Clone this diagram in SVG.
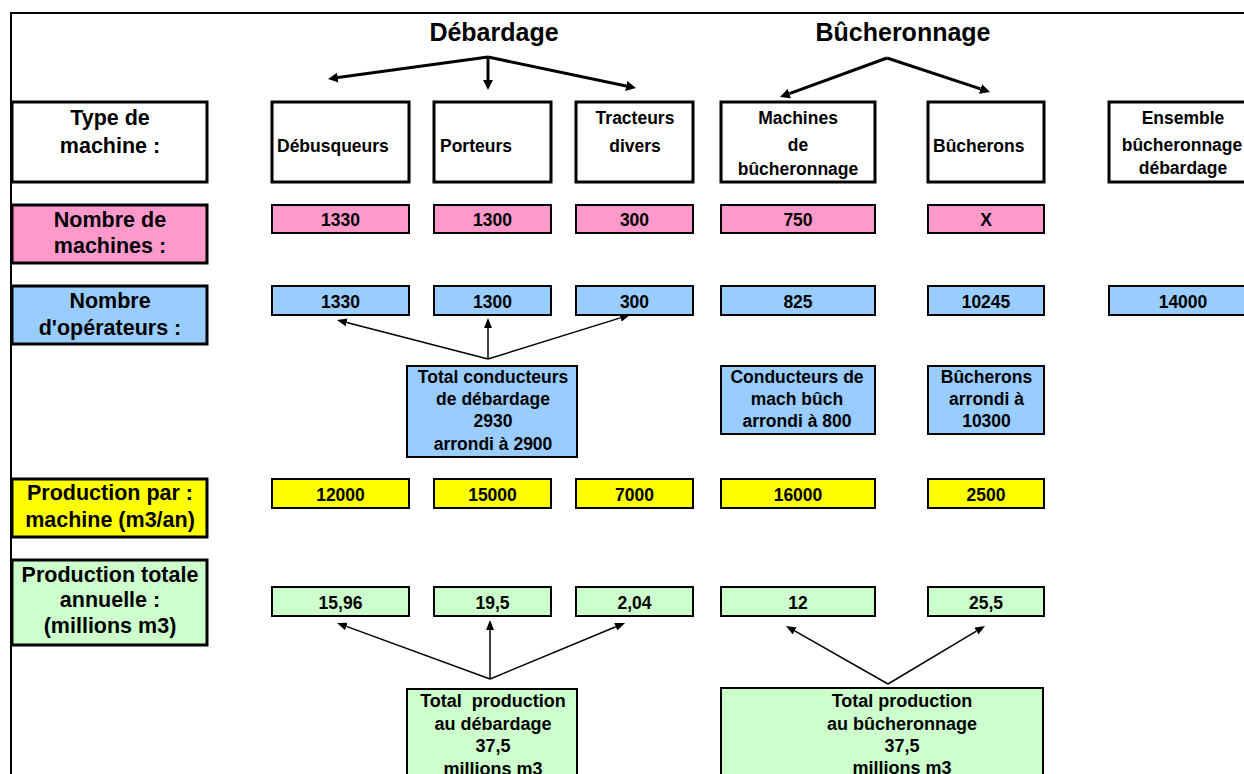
<svg xmlns="http://www.w3.org/2000/svg" width="1244" height="774" viewBox="0 0 1244 774">
<style>
text{font-family:"Liberation Sans",Arial,sans-serif;font-weight:bold;fill:#000}
.t{font-size:25px;text-anchor:middle}
.lab{font-size:21.5px;text-anchor:middle}
.m{font-size:17.5px;text-anchor:middle}
.ml{font-size:17.5px}
.b{font-size:18px;text-anchor:middle}
.big{stroke:#000;stroke-width:3}
.sm{stroke:#000;stroke-width:2}
.white{fill:#fff}.pink{fill:#FF99CC}.blue{fill:#99CCFF}.yel{fill:#FFFF00}.grn{fill:#CCFFCC}
.thick{stroke:#000;stroke-width:3;fill:none;marker-end:url(#ah)}
.thin{stroke:#000;stroke-width:1.5;fill:none;marker-end:url(#as)}
</style>
<defs>
<marker id="ah" markerUnits="userSpaceOnUse" markerWidth="10" markerHeight="10" refX="0" refY="5" orient="auto"><path d="M0,0 L10,5 L0,10 z" fill="#000"/></marker>
<marker id="as" markerUnits="userSpaceOnUse" markerWidth="10" markerHeight="8" refX="0" refY="4" orient="auto"><path d="M0,0 L10,4 L0,8 z" fill="#000"/></marker>
</defs>
<rect width="1244" height="774" fill="#fff"/>
<g id="frame"><path d="M11,774 V13 H1244" stroke="#000" stroke-width="2" fill="none"/></g>
<g id="titles">
<text class="t" x="494" y="41">Débardage</text>
<text class="t" x="903" y="41">Bûcheronnage</text>
</g>
<g id="connectors">
<line class="thick" x1="488" y1="57" x2="337.9" y2="77.6"/>
<line class="thick" x1="488" y1="57" x2="488" y2="80"/>
<line class="thick" x1="488" y1="57" x2="626.2" y2="86"/>
<line class="thick" x1="887" y1="58" x2="789.4" y2="93.6"/>
<line class="thick" x1="887" y1="58" x2="980.5" y2="88.9"/>
<line class="thin" x1="488" y1="359" x2="346.7" y2="322.4"/>
<line class="thin" x1="488" y1="359" x2="488" y2="328"/>
<line class="thin" x1="488" y1="359" x2="620.4" y2="317.9"/>
<line class="thin" x1="490" y1="679" x2="346.4" y2="626.4"/>
<line class="thin" x1="490" y1="679" x2="490" y2="630"/>
<line class="thin" x1="490" y1="679" x2="615.8" y2="626.8"/>
<line class="thin" x1="888" y1="684" x2="794.7" y2="630.9"/>
<line class="thin" x1="888" y1="684" x2="976.4" y2="631.1"/>
</g>
<g id="lab-type"><rect class="big white" x="12" y="102" width="195" height="80"/><text class="lab" x="110" y="125">Type de</text><text class="lab" x="110" y="153">machine :</text></g>
<g id="type-debusqueurs"><rect class="big white" x="272" y="102" width="137" height="80"/><text class="ml" x="277" y="152">Débusqueurs</text></g>
<g id="type-porteurs"><rect class="big white" x="434" y="102" width="117" height="80"/><text class="ml" x="440" y="152">Porteurs</text></g>
<g id="type-tracteurs"><rect class="big white" x="576" y="102" width="117" height="80"/><text class="m" x="635" y="124">Tracteurs</text><text class="m" x="635" y="152">divers</text></g>
<g id="type-machines"><rect class="big white" x="721" y="102" width="154" height="80"/><text class="m" x="798" y="124">Machines</text><text class="m" x="798" y="151">de</text><text class="m" x="798" y="175">bûcheronnage</text></g>
<g id="type-bucherons"><rect class="big white" x="928" y="102" width="116" height="80"/><text class="ml" x="933" y="152">Bûcherons</text></g>
<g id="type-ensemble"><rect class="big white" x="1109" y="102" width="148" height="80"/><text class="m" x="1183" y="124">Ensemble</text><text class="m" x="1182" y="151">bûcheronnage</text><text class="m" x="1183" y="174">débardage</text></g>

<g id="lab-machines"><rect class="big pink" x="12" y="205" width="195" height="58"/><text class="lab" x="110" y="227">Nombre de</text><text class="lab" x="110" y="253">machines :</text></g>
<g id="nm-1"><rect class="sm pink" x="272" y="205" width="137" height="28"/><text class="m" x="340.5" y="226">1330</text></g>
<g id="nm-2"><rect class="sm pink" x="434" y="205" width="117" height="28"/><text class="m" x="492.5" y="226">1300</text></g>
<g id="nm-3"><rect class="sm pink" x="576" y="205" width="117" height="28"/><text class="m" x="634.5" y="226">300</text></g>
<g id="nm-4"><rect class="sm pink" x="721" y="205" width="154" height="28"/><text class="m" x="798" y="226">750</text></g>
<g id="nm-5"><rect class="sm pink" x="928" y="205" width="116" height="28"/><text class="m" x="986" y="226">X</text></g>

<g id="lab-operateurs"><rect class="big blue" x="12" y="286" width="195" height="58"/><text class="lab" x="110" y="308">Nombre</text><text class="lab" x="110" y="335">d'opérateurs :</text></g>
<g id="no-1"><rect class="sm blue" x="272" y="286" width="137" height="29"/><text class="m" x="340.5" y="308">1330</text></g>
<g id="no-2"><rect class="sm blue" x="434" y="286" width="117" height="29"/><text class="m" x="492.5" y="308">1300</text></g>
<g id="no-3"><rect class="sm blue" x="576" y="286" width="117" height="29"/><text class="m" x="634.5" y="308">300</text></g>
<g id="no-4"><rect class="sm blue" x="721" y="286" width="154" height="29"/><text class="m" x="798" y="308">825</text></g>
<g id="no-5"><rect class="sm blue" x="928" y="286" width="116" height="29"/><text class="m" x="986" y="308">10245</text></g>
<g id="no-6"><rect class="sm blue" x="1109" y="286" width="148" height="29"/><text class="m" x="1183" y="308">14000</text></g>

<g id="note-debardage"><rect class="sm blue" x="407" y="366" width="170" height="91"/><text class="m" x="493" y="383">Total conducteurs</text><text class="m" x="493" y="405">de débardage</text><text class="m" x="493" y="427">2930</text><text class="m" x="493" y="450">arrondi à 2900</text></g>
<g id="note-mach"><rect class="sm blue" x="721" y="366" width="154" height="68"/><text class="m" x="797" y="383">Conducteurs de</text><text class="m" x="797" y="405">mach bûch</text><text class="m" x="797" y="427">arrondi à 800</text></g>
<g id="note-buch"><rect class="sm blue" x="928" y="366" width="116" height="68"/><text class="m" x="986.5" y="383">Bûcherons</text><text class="m" x="986.5" y="405">arrondi à</text><text class="m" x="986.5" y="427">10300</text></g>

<g id="lab-prodmachine"><rect class="big yel" x="12" y="479" width="195" height="58"/><text class="lab" x="110" y="500">Production par :</text><text class="lab" x="110" y="527">machine (m3/an)</text></g>
<g id="pm-1"><rect class="sm yel" x="272" y="479" width="137" height="29"/><text class="m" x="340.5" y="501">12000</text></g>
<g id="pm-2"><rect class="sm yel" x="434" y="479" width="117" height="29"/><text class="m" x="492.5" y="501">15000</text></g>
<g id="pm-3"><rect class="sm yel" x="576" y="479" width="117" height="29"/><text class="m" x="634.5" y="501">7000</text></g>
<g id="pm-4"><rect class="sm yel" x="721" y="479" width="154" height="29"/><text class="m" x="798" y="501">16000</text></g>
<g id="pm-5"><rect class="sm yel" x="928" y="479" width="116" height="29"/><text class="m" x="986" y="501">2500</text></g>

<g id="lab-prodtotale"><rect class="big grn" x="12" y="560" width="195" height="85"/><text class="lab" x="110" y="582">Production totale</text><text class="lab" x="110" y="607">annuelle :</text><text class="lab" x="110" y="633">(millions m3)</text></g>
<g id="pt-1"><rect class="sm grn" x="272" y="587" width="137" height="29"/><text class="m" x="340.5" y="609">15,96</text></g>
<g id="pt-2"><rect class="sm grn" x="434" y="587" width="117" height="29"/><text class="m" x="492.5" y="609">19,5</text></g>
<g id="pt-3"><rect class="sm grn" x="576" y="587" width="117" height="29"/><text class="m" x="634.5" y="609">2,04</text></g>
<g id="pt-4"><rect class="sm grn" x="721" y="587" width="154" height="29"/><text class="m" x="798" y="609">12</text></g>
<g id="pt-5"><rect class="sm grn" x="928" y="587" width="116" height="29"/><text class="m" x="986" y="609">25,5</text></g>

<g id="total-debardage"><rect class="sm grn" x="407" y="689" width="170" height="95"/><text class="b" x="493" y="707" xml:space="preserve">Total  production</text><text class="b" x="493" y="730">au débardage</text><text class="b" x="493" y="752">37,5</text><text class="b" x="493" y="775">millions m3</text></g>
<g id="total-bucheronnage"><rect class="sm grn" x="721" y="688" width="322" height="96"/><text class="b" x="902" y="707">Total production</text><text class="b" x="902" y="730">au bûcheronnage</text><text class="b" x="902" y="752">37,5</text><text class="b" x="902" y="774">millions m3</text></g>
</svg>
